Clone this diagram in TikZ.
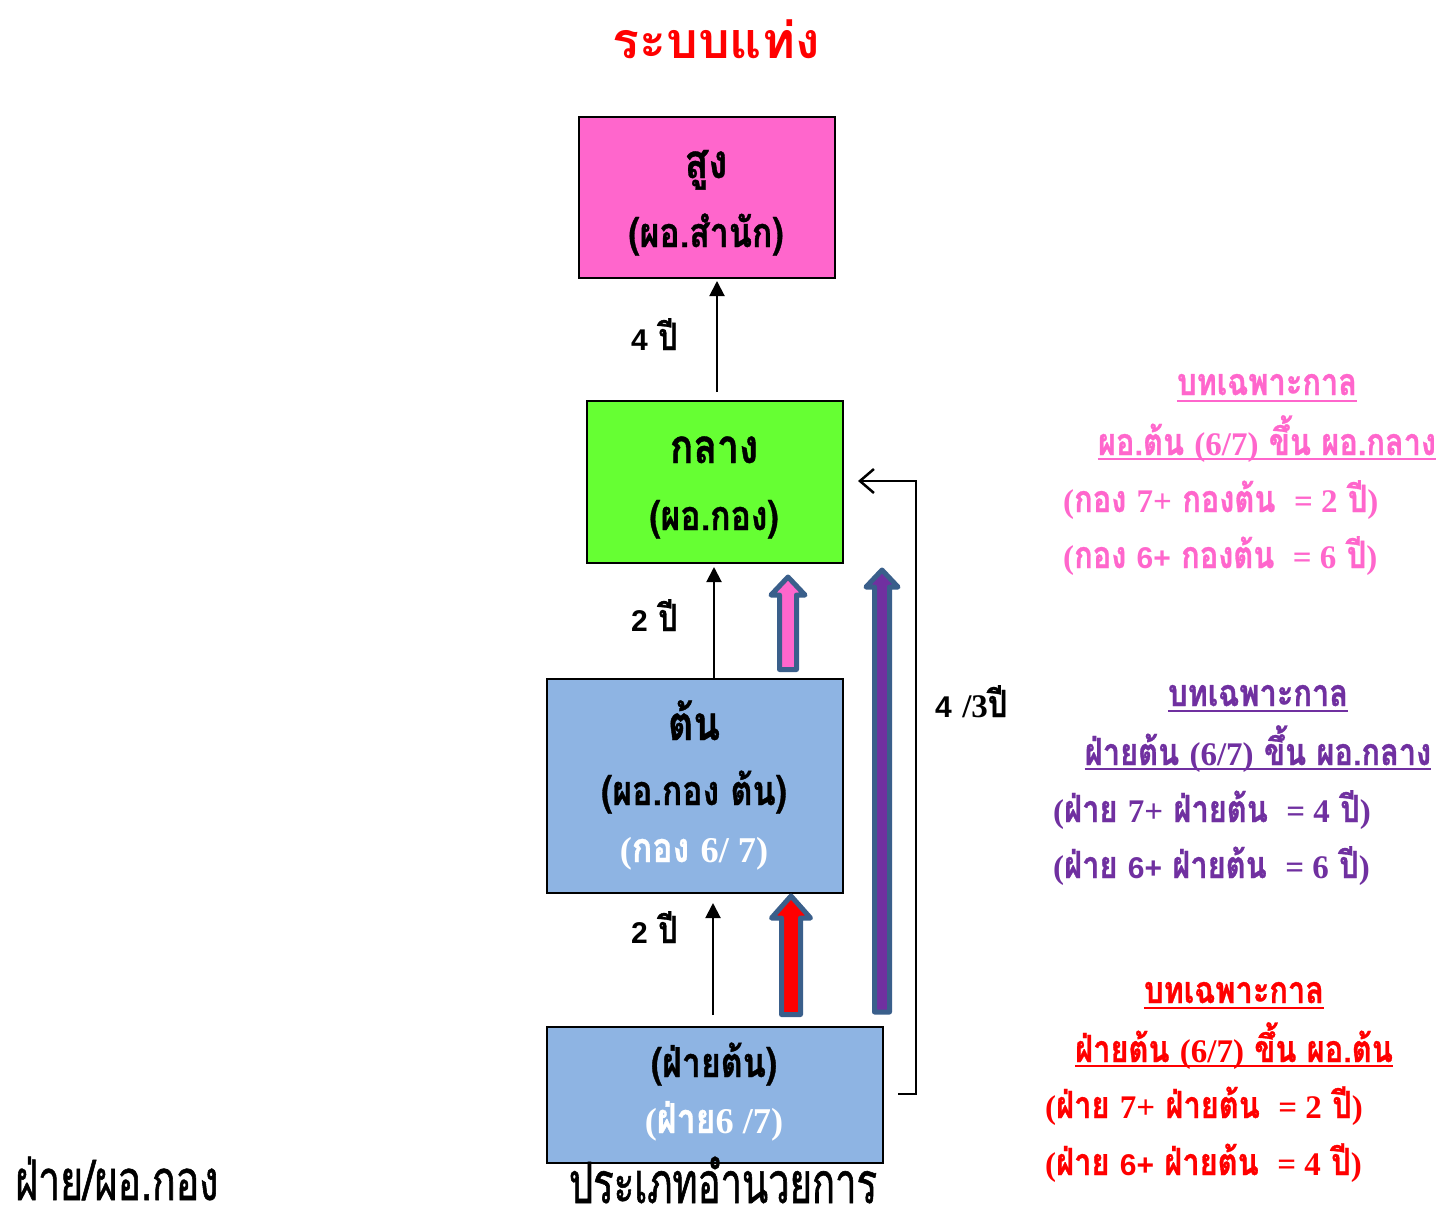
\documentclass[tikz,border=0pt]{standalone}
\usepackage{fontspec}
\setmainfont{Liberation Serif}
\newfontfamily\serifx[Scale=1.1]{Liberation Serif}
\newfontfamily\thf[Script=Thai]{Loma}
\newfontfamily\thx[Script=Thai,Scale=1.25,FakeStretch=0.82,FakeBold=0.8]{Loma}
\newfontfamily\thcondA[Script=Thai,FakeStretch=0.67,FakeBold=1]{Loma}
\newfontfamily\thcondB[Script=Thai,FakeStretch=0.7,FakeBold=1]{Loma}
\newfontfamily\arialf{Liberation Sans}
\usetikzlibrary{arrows.meta}
\newcommand\lat[1]{{\serifx#1}}
\newcommand\ari[1]{{\arialf#1}}
\newcommand\fs[1]{\fontsize{#1}{#1}\selectfont}
\definecolor{pinkc}{HTML}{FF66CC}
\definecolor{greenc}{HTML}{66FF33}
\definecolor{bluec}{HTML}{8EB4E3}
\definecolor{purplec}{HTML}{7030A0}
\definecolor{redc}{HTML}{FF0000}
\definecolor{edgec}{HTML}{3A5F8B}
\tikzset{
  box/.style={draw=black, line width=2pt, inner sep=0pt, anchor=north west},
  txt/.style={inner sep=0pt, font=\bfseries\thx},
  head/.style={txt, anchor=base, font=\bfseries\thx\fs{38}},
  sub/.style={txt, anchor=base, font=\bfseries\thx\fs{33}},
  side/.style={txt, font=\bfseries\thx\fs{30}},
  yrs/.style={txt, anchor=base west, font=\bfseries\thx\fs{30}},
  uline/.style={line width=2.5pt},
  blk/.style={draw=edgec, line width=5pt, line join=round},
  thin/.style={line width=2pt, -{Triangle[length=15pt,width=15pt]}},
}
\newcommand\blockarrow[7]{%
  \fill[#7] (#1-#5,#4) -- (#1-#5,#3) -- (#1-#6,#3) -- (#1,#2) -- (#1+#6,#3) -- (#1+#5,#3) -- (#1+#5,#4) -- cycle;
  \draw[blk] (#1-#5,#4) -- (#1-#5,#3) -- (#1-#6,#3) -- (#1,#2) -- (#1+#6,#3) -- (#1+#5,#3) -- (#1+#5,#4) -- cycle;}
\begin{document}
\begin{tikzpicture}[x=1pt,y=-1pt]
\useasboundingbox (0,0) rectangle (1448,1226);
\fill[white] (0,0) rectangle (1448,1226);

% title
\node[txt, anchor=base, text=redc, font=\bfseries\thf\fs{50}] (title) at (716,58) {ระบบแท่ง};

% boxes
\node[box, fill=pinkc, minimum width=256pt, minimum height=161pt] (high) at (578,116) {};
\node[box, fill=greenc, minimum width=256pt, minimum height=162pt] (mid) at (586,400) {};
\node[box, fill=bluec, minimum width=296pt, minimum height=214pt] (low) at (546,678) {};
\node[box, fill=bluec, minimum width=336pt, minimum height=136pt] (dept) at (546,1026) {};

% box texts
\node[head] (highA) at (706,178) {สูง};
\node[sub] (highB) at (706,247) {(ผอ.สำนัก)};
\node[head] (midA) at (714,463) {กลาง};
\node[sub] (midB) at (714,530) {(ผอ.กอง)};
\node[head] (lowA) at (694,740) {ต้น};
\node[sub] (lowB) at (694,805) {(ผอ.กอง ต้น)};
\node[sub, text=white] (lowC) at (694,862) {\lat{(}กอง \lat{6/ 7)}};
\node[sub] (deptA) at (714,1077) {(ฝ่ายต้น)};
\node[sub, text=white] (deptB) at (714,1133) {\lat{(}ฝ่าย\lat{6 /7)}};

% thin arrows
\coordinate (a1s) at (717,392);
\coordinate (a1e) at (717,281);
\draw[thin] (a1s) -- (a1e);
\coordinate (a2e) at (714,567);
\draw[thin] (low.north -| a2e) -- (a2e);
\coordinate (a3s) at (713,1015);
\coordinate (a3e) at (713,903);
\draw[thin] (a3s) -- (a3e);

\node[yrs] (y1) at (631,350) {\ari{4} ปี};
\node[yrs] (y2) at (631,631) {\ari{2} ปี};
\node[yrs] (y3) at (631,943) {\ari{2} ปี};

% block arrows
\blockarrow{788}{577}{595}{669.5}{8.5}{17}{pinkc}
\blockarrow{791}{896}{918}{1014.5}{9.5}{19.5}{redc}
\blockarrow{882}{570}{587}{1012}{7.5}{16}{purplec}

% side connector
\coordinate (c1) at (898,1094);
\coordinate (c2) at (916,1094);
\coordinate (c3) at (916,481);
\coordinate (c4) at (858,481);
\draw[line width=2.5pt, -{Straight Barb[length=14pt,width=24pt,line width=2.5pt]}] (c1) -- (c2) -- (c3) -- (c4);
\node[yrs] (y4) at (935,717) {\ari{4} \lat{/3}ปี};

% pink notes
\node[side, anchor=base, text=pinkc] (p1) at (1267,395) {บทเฉพาะกาล};
\node[side, anchor=base, text=pinkc] (p2) at (1267,455) {ผอ.ต้น \lat{(6/7)} ขึ้น ผอ.กลาง};
\node[side, anchor=base west, text=pinkc] (p3) at (1063,512) {\lat{(}กอง \lat{7+} กองต้น \lat{~= 2} ปี\lat{)}};
\node[side, anchor=base west, text=pinkc] (p4) at (1063,568) {\lat{(}กอง \ari{6+} กองต้น \lat{~= 6} ปี\lat{)}};
\draw[uline, pinkc] ([yshift=-6pt]p1.base west) -- ([yshift=-6pt]p1.base east);
\draw[uline, pinkc] ([yshift=-4pt]p2.base west) -- ([yshift=-4pt]p2.base east);

% purple notes
\node[side, anchor=base, text=purplec] (q1) at (1258,706) {บทเฉพาะกาล};
\node[side, anchor=base, text=purplec] (q2) at (1258,765) {ฝ่ายต้น \lat{(6/7)} ขึ้น ผอ.กลาง};
\node[side, anchor=base west, text=purplec] (q3) at (1053,822) {\lat{(}ฝ่าย \lat{7+} ฝ่ายต้น \lat{~= 4} ปี\lat{)}};
\node[side, anchor=base west, text=purplec] (q4) at (1053,878) {\lat{(}ฝ่าย \ari{6+} ฝ่ายต้น \lat{~= 6} ปี\lat{)}};
\draw[uline, purplec] ([yshift=-5pt]q1.base west) -- ([yshift=-5pt]q1.base east);
\draw[uline, purplec] ([yshift=-4pt]q2.base west) -- ([yshift=-4pt]q2.base east);

% red notes
\node[side, anchor=base, text=redc] (r1) at (1234,1003) {บทเฉพาะกาล};
\node[side, anchor=base, text=redc] (r2) at (1234,1062) {ฝ่ายต้น \lat{(6/7)} ขึ้น ผอ.ต้น};
\node[side, anchor=base west, text=redc] (r3) at (1045,1118) {\lat{(}ฝ่าย \lat{7+} ฝ่ายต้น \lat{~= 2} ปี\lat{)}};
\node[side, anchor=base west, text=redc] (r4) at (1045,1175) {\lat{(}ฝ่าย \ari{6+} ฝ่ายต้น \lat{~= 4} ปี\lat{)}};
\draw[uline, redc] ([yshift=-5pt]r1.base west) -- ([yshift=-5pt]r1.base east);
\draw[uline, redc] ([yshift=-4pt]r2.base west) -- ([yshift=-4pt]r2.base east);

% bottom labels
\node[txt, anchor=base west, font=\thcondB\fs{56}] (left) at (15,1200) {ฝ่าย/ผอ.กอง};
\node[txt, anchor=base, font=\thcondA\fs{57}] (bottom) at (723,1203) {ประเภทอำนวยการ};
\end{tikzpicture}
\end{document}
